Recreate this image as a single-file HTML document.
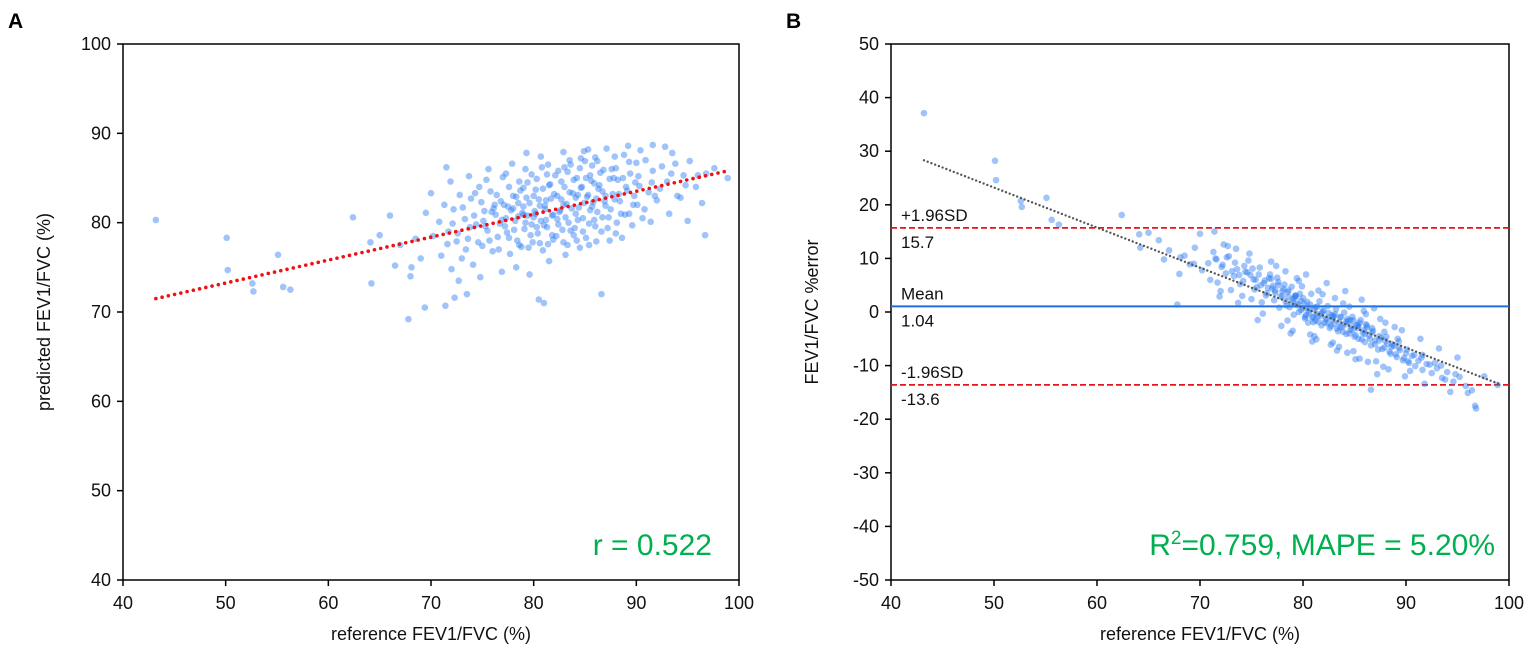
<!DOCTYPE html>
<html><head><meta charset="utf-8"><style>
body{margin:0;background:#fff;}
svg{display:block;font-family:"Liberation Sans",Arial,sans-serif;}
</style></head><body>
<svg id="chart" width="1535" height="655" viewBox="0 0 1535 655" xmlns="http://www.w3.org/2000/svg"></svg>
<script>
// shared reference x values (reference FEV1/FVC %)
const refVals=[43.2,50.1,50.2,52.6,52.7,55.1,55.6,56.3,62.4,64.1,64.2,65.0,66.0,67.8,68.1,69.4,71.4,72.3,73.5,80.5,81.0,86.6,96.7,98.9,97.6,91.6,89.2,92.8,85.3,79.3,71.5,70.0,
70.2,70.8,71.0,71.3,71.7,72.0,72.2,72.5,72.8,73.0,73.3,73.6,73.9,74.1,74.4,74.7,75.0,75.2,75.5,75.8,76.0,76.3,76.5,76.8,77.0,77.2,77.5,77.7,78.0,78.2,78.4,78.6,78.9,79.1,79.3,79.5,79.8,80.0,80.2,80.4,80.6,80.8,81.0,81.2,81.4,81.6,81.8,82.0,82.2,82.4,82.6,82.8,83.0,83.2,83.4,83.6,83.8,84.0,84.2,84.4,84.6,84.8,85.0,85.2,85.4,85.6,85.8,86.0,86.2,86.4,86.6,86.8,87.0,87.3,87.6,87.9,88.2,88.5,88.8,89.1,89.4,89.7,90.0,90.3,90.6,90.9,91.2,91.6,92.0,92.5,93.0,93.5,94.0,94.6,95.2,95.8,96.4,
68.5,69.0,69.5,68.0,67.0,66.5,72.7,74.8,76.9,78.3,79.6,81.5,83.1,84.5,86.1,88.0,89.6,91.4,93.2,95.0,75.6,77.9,80.7,82.9,84.9,87.1,90.4,93.8,73.7,71.9,79.0,81.3,83.5,85.5,87.8,89.9,79.9,81.9,83.9,85.9,87.5,88.9,76.1,78.5,80.3,82.3,84.1,85.7,86.9,77.4,79.4,81.1,82.7,84.3,86.3,88.3,78.8,80.9,83.3,85.1,87.2,91.8,96.0,96.8,94.3,
74.2,74.9,75.3,75.9,76.4,76.7,77.1,77.3,77.6,77.8,78.1,78.3,78.5,78.7,79.0,79.2,79.4,79.6,79.8,80.0,80.1,80.3,80.5,80.7,80.9,81.1,81.3,81.5,81.7,81.9,82.1,82.3,82.5,82.7,82.9,83.1,83.3,83.5,83.7,83.9,84.1,84.3,84.5,84.7,84.9,85.1,85.3,85.5,85.7,85.9,86.1,86.5,86.7,87.0,87.4,87.7,88.0,88.4,88.7,89.0,89.3,89.8,90.2,
71.6,72.1,72.6,73.1,73.4,73.8,74.3,74.6,75.1,75.4,75.7,76.2,76.6,76.9,77.6,78.0,78.6,79.0,79.7,80.2,80.6,81.2,81.8,82.4,82.9,83.6,84.2,84.8,85.4,86.0,86.7,87.4,88.1,88.6,89.3,90.1,90.8,91.5,92.3,93.4,94.8,81.4,83.0,84.6,86.2,87.9,79.2,77.3];
// panel A: predicted FEV1/FVC %
const predVals=[80.3,78.3,74.7,73.2,72.3,76.4,72.8,72.5,80.6,77.8,73.2,78.6,80.8,69.2,75.0,70.5,70.7,71.6,72.0,71.4,71.0,72.0,78.6,85.0,86.1,88.7,88.6,88.5,88.2,87.8,86.2,83.3,
78.5,80.1,76.3,82.0,79.0,74.8,81.5,77.9,83.1,76.0,80.4,78.2,82.7,75.3,79.8,84.0,77.4,81.3,79.1,83.5,76.8,80.9,78.4,82.4,85.1,79.6,81.8,76.5,83.0,80.2,78.0,84.6,81.1,79.3,82.8,77.2,85.4,80.6,83.7,78.8,81.9,86.2,79.7,82.5,77.6,84.3,80.8,83.2,78.5,85.8,81.4,79.2,84.0,82.1,80.0,86.5,83.3,79.4,85.0,81.7,83.9,80.5,86.9,82.9,79.9,84.7,82.3,87.3,81.2,84.2,79.0,85.9,83.0,80.6,86.0,82.6,84.8,81.0,87.6,83.6,85.5,82.0,86.7,84.1,80.5,87.0,83.4,85.8,82.5,86.3,84.6,87.8,83.0,85.3,86.9,84.0,82.2,
78.2,76.0,81.1,74.0,77.5,75.2,73.5,73.9,74.5,75.0,74.2,75.7,76.4,77.2,77.9,78.8,79.7,80.1,81.0,80.2,86.0,86.6,87.4,87.9,88.0,88.3,88.1,86.6,85.2,84.6,83.9,85.4,87.0,85.3,85.0,84.5,77.8,78.1,78.6,80.3,81.5,80.9,81.6,82.2,79.5,80.4,81.0,81.8,82.4,78.9,80.8,81.5,82.6,83.1,83.8,83.2,77.3,76.9,77.5,78.3,79.4,83.0,85.3,85.5,82.8,
80.8,82.3,79.6,81.2,83.1,79.9,82.0,80.5,84.0,81.4,79.2,82.9,80.7,83.6,81.8,80.0,84.5,82.2,79.8,83.0,81.3,84.9,82.6,80.2,83.8,81.9,79.5,84.2,82.7,80.9,85.3,83.0,81.2,84.6,82.0,80.6,85.7,83.4,81.6,84.8,82.8,80.3,86.1,84.0,82.2,85.0,83.1,81.4,86.4,84.4,82.7,85.6,83.5,81.9,84.9,83.2,86.1,82.4,85.0,84.0,86.8,83.0,85.2,
77.6,79.9,78.8,81.7,77.0,79.5,83.3,77.8,80.2,84.8,78.0,82.0,77.0,80.3,78.3,81.6,77.5,80.9,78.6,81.0,77.7,80.3,78.6,79.8,77.8,79.1,78.0,79.0,77.5,79.6,80.6,78.0,80.0,78.3,81.0,82.0,81.5,84.5,83.8,85.5,84.2,86.5,86.2,87.2,86.9,87.4,86.0,85.5];
// panel B: FEV1/FVC %error
const errVals=[37.1,28.2,24.6,20.7,19.6,21.3,17.2,16.3,18.1,14.5,12.0,14.8,13.4,1.4,10.2,9.0,15.0,12.6,11.8,-2.0,-1.0,-14.5,-17.5,-13.6,-12.0,-8.0,-5.0,-9.5,-2.5,3.0,10.0,14.6,
7.8,9.1,6.0,11.2,5.5,3.9,8.8,7.2,10.4,4.1,6.7,8.0,5.2,3.0,7.5,9.6,2.4,6.1,4.6,8.3,1.8,5.9,3.5,7.0,4.4,2.2,6.4,0.8,3.9,5.1,1.2,2.8,4.7,-0.5,3.1,1.5,0.4,2.6,-1.2,1.9,-0.2,3.4,-1.9,0.9,-0.8,2.0,-2.5,0.3,-1.4,1.1,-3.0,-0.6,-2.2,0.5,-3.6,-1.0,-2.8,-0.1,-4.1,-1.7,-3.3,-0.9,-4.6,-2.4,-5.0,-1.5,-3.9,-5.6,-2.9,-4.4,-6.2,-3.5,-5.3,-7.0,-4.8,-6.6,-5.9,-7.8,-6.3,-8.4,-7.1,-9.0,-7.7,-9.5,-8.2,-10.1,-9.1,-10.8,-9.7,-11.4,-10.5,-12.3,-11.2,-13.0,-12.1,-13.8,-14.6,
10.5,8.9,12.0,7.1,11.5,9.8,12.3,10.9,9.4,7.6,5.8,4.0,2.6,1.0,-0.4,-2.0,-3.4,-5.0,-6.8,-8.5,-1.5,-2.6,-4.2,-5.7,-7.3,-9.2,-11.0,-12.6,1.7,2.9,-3.5,-5.1,-6.5,-8.7,-10.2,-12.0,4.8,3.3,1.6,0.2,-1.3,-2.8,-0.3,-1.6,7.0,5.4,3.9,2.3,0.7,8.6,6.3,-4.5,-6.1,-7.6,-9.3,-10.7,-4.0,-5.5,-7.2,-8.8,-11.6,-13.4,-15.1,-18.0,-14.9,
5.8,6.9,4.2,5.0,3.1,6.3,4.9,3.6,5.6,2.9,4.3,2.0,3.7,0.9,2.4,3.0,1.3,0.0,2.1,0.7,1.6,-0.6,0.2,1.4,-1.0,0.6,-0.3,-1.8,-0.7,0.1,-2.0,-1.1,-0.2,-2.6,-1.5,-0.4,-3.1,-1.9,-0.9,-3.7,-2.3,-1.3,-4.0,-2.7,-1.6,-4.3,-3.0,-2.0,-5.1,-3.4,-2.3,-5.0,-3.8,-6.0,-4.5,-6.9,-5.4,-7.4,-6.0,-7.9,-6.7,-8.6,-9.2,
9.8,8.4,10.2,7.6,9.2,6.9,8.6,7.4,8.1,6.0,7.0,5.4,4.5,6.2,5.0,3.0,4.0,1.8,3.4,-0.9,0.8,-1.6,-0.3,-2.1,-0.9,-2.8,-1.8,-3.4,-2.6,-4.1,-3.0,-5.3,-4.6,-6.5,-5.5,-7.0,-8.0,-8.5,-9.8,-10.0,-11.6,1.0,-0.8,-1.5,-2.5,-3.7,2.6,4.0];
const xTicks=[40,50,60,70,80,90,100];
const yTicksA=[40,50,60,70,80,90,100];
const yTicksB=[-50,-40,-30,-20,-10,0,10,20,30,40,50];
const trendAx=[43.2,98.9], trendAy=[71.5,85.8];
const trendBx=[43.2,99.0], trendBy=[28.3,-13.4];
const limitVals=[15.7,1.04,-13.6];
const limitLabels=["+1.96SD","Mean","-1.96SD"];
const limitNames=["upper-limit","mean-line","lower-limit"];

const NS="http://www.w3.org/2000/svg";
const svg=document.getElementById('chart');
function mk(tag,attrs,parent){const e=document.createElementNS(NS,tag);for(const k in attrs)e.setAttribute(k,attrs[k]);(parent||svg).appendChild(e);return e;}
function txt(s,attrs,parent){const e=mk('text',attrs,parent);e.textContent=s;return e;}

function panel(o){
  const g=mk('g',{});
  
  
  const sx=v=>o.x0+(v-40)/60*(o.x1-o.x0);
  const sy=v=>o.yb+(v-o.ymin)/(o.ymax-o.ymin)*(o.yt-o.yb);
  const box=mk('rect',{x:o.x0,y:o.yt,width:o.x1-o.x0,height:o.yb-o.yt,fill:'none',stroke:'#000','stroke-width':1.5},g);
  
  
  xTicks.forEach(t=>{
    mk('line',{x1:sx(t),x2:sx(t),y1:o.yb,y2:o.yb+6,stroke:'#000','stroke-width':1.5},g);
    const l=txt(String(t),{x:sx(t),y:o.yb+29,'font-size':18,'text-anchor':'middle',fill:'#111'},g);
    
    
  });
  o.yticks.forEach(t=>{
    mk('line',{x1:o.x0-6,x2:o.x0,y1:sy(t),y2:sy(t),stroke:'#000','stroke-width':1.5},g);
    const l=txt(String(t),{x:o.x0-12,y:sy(t)+6,'font-size':18,'text-anchor':'end',fill:'#111'},g);
    
    
  });
  const xt=txt('reference FEV1/FVC (%)',{x:(o.x0+o.x1)/2,y:640,'font-size':18,'text-anchor':'middle',fill:'#111'},g);
  
  
  const cy=(o.yt+o.yb)/2;
  const yt=txt(o.ytitle,{x:o.ytx,y:cy,'font-size':18,'text-anchor':'middle',fill:'#111',transform:`rotate(-90 ${o.ytx} ${cy})`},g);
  
  
  return {g,sx,sy};
}
const PT='rgba(45,125,245,0.45)';

// Panel A
const A=panel({name:'panel-a',x0:123,x1:739,yt:44,yb:580,ymin:40,ymax:100,yticks:yTicksA,ytitle:'predicted FEV1/FVC (%)',ytx:50});
const ptsA=mk('g',{},A.g);


refVals.forEach((x,i)=>{
  const c=mk('circle',{cx:A.sx(x),cy:A.sy(predVals[i]),r:3.3,fill:PT},ptsA);
  
  
});
const tA=mk('line',{x1:A.sx(trendAx[0]),y1:A.sy(trendAy[0]),x2:A.sx(trendAx[1]),y2:A.sy(trendAy[1]),stroke:'#ee1111','stroke-width':3.6,'stroke-dasharray':'0 6.4','stroke-linecap':'round'},A.g);


const rA=txt('r = 0.522',{x:712,y:555,'font-size':30,'text-anchor':'end',fill:'#00b050'},A.g);


const la=txt('A',{x:8,y:28,'font-size':21,'font-weight':'bold',fill:'#000'});



// Panel B
const B=panel({name:'panel-b',x0:891,x1:1509,yt:44,yb:580,ymin:-50,ymax:50,yticks:yTicksB,ytitle:'FEV1/FVC %error',ytx:818});
limitVals.forEach((v,i)=>{
  const isMean=i===1;
  const l=mk('line',{x1:891,x2:1509,y1:B.sy(v),y2:B.sy(v),stroke:isMean?'#1f6fe0':'#e8141b','stroke-width':isMean?2:1.8,'stroke-dasharray':isMean?'none':'6 3'},B.g);
  
  
  const t1=txt(limitLabels[i],{x:901,y:B.sy(v)-7,'font-size':17,fill:'#111'},B.g);
  
  
  const t2=txt(String(v),{x:901,y:B.sy(v)+20,'font-size':17,fill:'#111'},B.g);
  
  
});
const ptsB=mk('g',{},B.g);


refVals.forEach((x,i)=>{
  const c=mk('circle',{cx:B.sx(x),cy:B.sy(errVals[i]),r:3.3,fill:PT},ptsB);
  
  
});
const tB=mk('line',{x1:B.sx(trendBx[0]),y1:B.sy(trendBy[0]),x2:B.sx(trendBx[1]),y2:B.sy(trendBy[1]),stroke:'#555','stroke-width':2.4,'stroke-dasharray':'0 4','stroke-linecap':'round'},B.g);


const rB=mk('text',{x:1495,y:555,'font-size':30,'text-anchor':'end',fill:'#00b050'},B.g);
rB.innerHTML='R<tspan dy="-11" font-size="19">2</tspan><tspan dy="11">=0.759, MAPE = 5.20%</tspan>';


const lb=txt('B',{x:786,y:28,'font-size':21,'font-weight':'bold',fill:'#000'});


</script>
</body></html>
